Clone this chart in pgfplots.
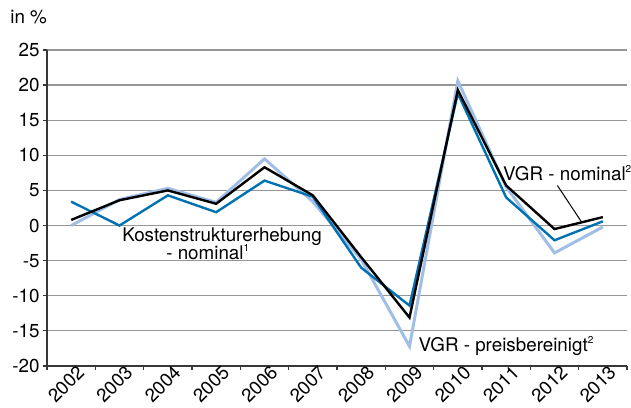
\documentclass[border=0pt]{standalone}
\usepackage{fontspec}
\setmainfont{TeX Gyre Heros}
\usepackage{pgfplots}
\pgfplotsset{compat=1.18}
\definecolor{kblue}{RGB}{0,114,178}
\definecolor{lblue}{RGB}{160,190,230}
\definecolor{gridgray}{RGB}{150,150,150}
\definecolor{axgray}{RGB}{55,55,55}
\pgfplotstableread{
year kost vgrnom vgrreal
2002 3.4 0.8 0.0
2003 0.0 3.6 3.7
2004 4.3 5.0 5.3
2005 1.9 3.1 3.3
2006 6.4 8.3 9.5
2007 4.1 4.3 3.4
2008 -6.0 -4.5 -4.8
2009 -11.4 -13.1 -17.2
2010 18.8 19.3 20.6
2011 4.0 5.7 5.5
2012 -2.1 -0.5 -3.9
2013 0.6 1.2 -0.2
}\datatable
\begin{document}
\begin{tikzpicture}
\begin{axis}[name=ax, scale only axis, width=290pt, height=158pt,
  xmin=2001.5, xmax=2013.5, ymin=-20, ymax=25,
  ytick={-20,-15,...,25},
  xtick={2001.5,2002.5,...,2013.5},
  xticklabels={2002,2003,2004,2005,2006,2007,2008,2009,2010,2011,2012,2013,{}},
  axis x line*=bottom, axis y line*=left,
  ymajorgrids, major grid style={gridgray, line width=0.6pt},
  axis line style={axgray, line width=0.8pt},
  tick style={axgray, line width=0.6pt},
  tick align=outside, major tick length=2pt,
  font=\fontsize{9.4}{11}\selectfont,
  /pgf/number format/assume math mode=true,
  /pgf/number format/1000 sep={},
  xticklabel style={xshift=14.5pt, yshift=3pt, rotate=45, anchor=north east, inner sep=0pt},
  yticklabel style={inner sep=0pt, xshift=-1.5pt},
  clip=false,
]
\addplot[lblue, line width=1.5pt] table[x=year, y=vgrreal] {\datatable};
\addplot[kblue, line width=1.2pt] table[x=year, y=kost] {\datatable};
\addplot[black, line width=1.2pt] table[x=year, y=vgrnom] {\datatable};
\draw[black, line width=0.5pt] (axis cs:2012.06,5.7) -- (axis cs:2012.56,0.5);
\node[anchor=base west, inner sep=0pt] at (axis cs:2003.05,-2.28) {Kostenstrukturerhebung};
\node[anchor=base west, inner sep=0pt] at (axis cs:2003.96,-4.84) {- nominal\textsuperscript{\tiny 1}};
\node[anchor=base west, inner sep=0pt] at (axis cs:2010.93,6.41) {VGR - nominal\textsuperscript{\tiny 2}};
\node[anchor=base west, inner sep=0pt] at (axis cs:2009.18,-17.88) {VGR - preisbereinigt\textsuperscript{\tiny 2}};
\node[anchor=base west, inner sep=0pt] at (rel axis cs:-0.0638,1.085) {in \%};
\end{axis}
\pgfresetboundingbox
\path[use as bounding box] ([xshift=-23.5pt, yshift=-21pt]ax.south west) rectangle ([xshift=2pt, yshift=25pt]ax.north east);
\end{tikzpicture}
\end{document}
